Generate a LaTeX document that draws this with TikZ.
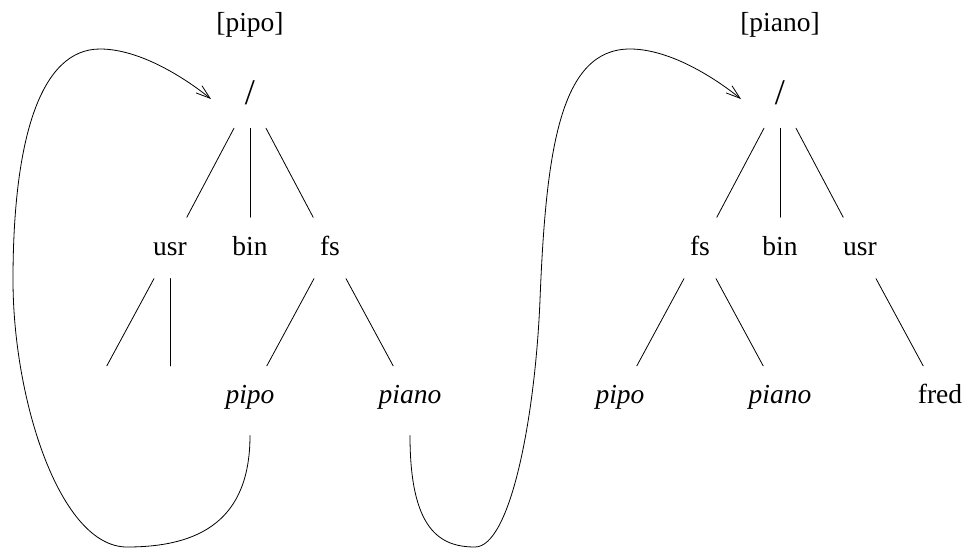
\documentclass[tikz,border=0pt]{standalone}
\usepackage{fontspec}
\setmainfont{Liberation Serif}
\usetikzlibrary{calc,arrows.meta}
\newcommand{\treefont}{\fontsize{13.7}{16}\selectfont}
\tikzset{
	leaf/.style={inner sep=0pt, text height=9.6pt, text depth=3.4pt, font=\treefont},
	file/.style={leaf, font=\treefont\itshape},
	rootdir/.style={leaf, font=\fontsize{18}{20}\selectfont},
	link/.style={->, shorten <=12.5pt}
}
\begin{document}
\begin{tikzpicture}[line cap=round, line join=round, x=0.0175cm, y=-0.0175cm, >={Straight Barb[length=7pt,width=4.6pt]}]
	\useasboundingbox (0,0) rectangle (965,548);
	% the two trees
	\node[leaf] (titleL) at (250,25) {[pipo]};
	\node[leaf] (titleR) at (780,25) {[piano]};
	\node[rootdir] (rootL) at (250,98) {/};
	\node[rootdir] (rootR) at (780,98) {/};
	\foreach \n/\x/\t in {usrL/170/usr, binL/250/bin, fsL/330/fs, fsR/700/fs, binR/780/bin, usrR/860/usr} {
		\node[leaf] (\n) at (\x,249) {\t};
	}
	\foreach \n/\x/\t in {pipoL/250/pipo, pianoL/410/piano, pipoR/620/pipo, pianoR/780/piano} {
		\node[file] (\n) at (\x,397) {\t};
	}
	\node[leaf] (fredR) at (940,397) {fred};
	\coordinate (usrLa) at (90,397);
	\coordinate (usrLb) at (170,397);
	\foreach \a/\b in {rootL/usrL, rootL/binL, rootL/fsL, usrL/usrLa, usrL/usrLb, fsL/pipoL, fsL/pianoL,
		rootR/fsR, rootR/binR, rootR/usrR, fsR/pipoR, fsR/pianoR, usrR/fredR} {
		\draw ($(\a)!0.2!(\b)$) -- ($(\a)!0.79!(\b)$);
	}
	% mount links
	\coordinate (intoL) at (211,99);
	\coordinate (intoR) at (741,99);
	\draw[link] (pipoL) .. controls (250,520) and (200,547) .. (127,547)
		.. controls (60,547) and (13,400) .. (13,280)
		.. controls (13,140) and (40,49) .. (100,49)
		.. controls (140,49) and (185,78) .. (intoL);
	\draw[link] (pianoL) .. controls (410,530) and (440,547) .. (475,547)
		.. controls (510,547) and (535,420) .. (540,300)
		.. controls (546,150) and (560,49) .. (630,49)
		.. controls (670,49) and (715,78) .. (intoR);
\end{tikzpicture}
\end{document}
